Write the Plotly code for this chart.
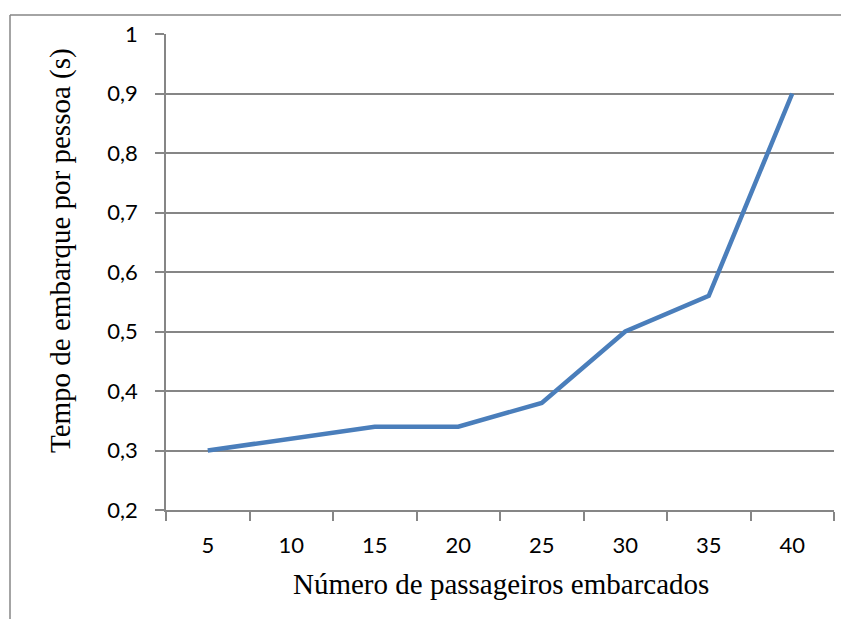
import plotly.graph_objects as go

categories = ["5", "10", "15", "20", "25", "30", "35", "40"]
values = [0.30, 0.32, 0.34, 0.34, 0.38, 0.50, 0.56, 0.90]
y_ticks = [0.2, 0.3, 0.4, 0.5, 0.6, 0.7, 0.8, 0.9, 1.0]
y_ticktext = ["0,2", "0,3", "0,4", "0,5", "0,6", "0,7", "0,8", "0,9", "1"]
x_title = "Número de passageiros embarcados"
y_title = "Tempo de embarque por pessoa (s)"

grid = "#868686"
fig = go.Figure()
fig.add_trace(go.Scatter(
    x=categories, y=values, mode="lines",
    line=dict(color="#4A7EBB", width=4.5),
    hoverinfo="skip",
))

# page body has an 8px margin; lay out in window pixels and shift
OFF = 8
WIN_W, WIN_H = 849, 619
W, H = WIN_W - OFF, WIN_H - OFF
PL, PR, PT, PB = 166, 834, 34, 510   # plot area in window pixels
L, R, T, B = PL - OFF, WIN_W - PR, PT - OFF, WIN_H - PB
pw, ph = PR - PL, PB - PT

def px_x(px):
    return (px - PL) / pw

def px_y(py):
    return (PB - py) / ph

fig.update_layout(
    width=W, height=H,
    margin=dict(l=L, r=R, t=T, b=B, autoexpand=False),
    paper_bgcolor="white", plot_bgcolor="white",
    showlegend=False,
    xaxis=dict(
        type="category", tickson="boundaries", ticks="outside", ticklen=9,
        tickcolor=grid, tickwidth=1.5,
        showline=True, linecolor=grid, linewidth=1.5,
        showgrid=False, zeroline=False,
        tickfont=dict(family="Lato", size=22, color="black"),
        ticklabelstandoff=15,
        range=[-0.5, 7.5],
    ),
    yaxis=dict(
        range=[0.2, 1.0], tickvals=y_ticks, ticktext=y_ticktext,
        ticks="outside", ticklen=9, tickcolor=grid, tickwidth=1.5,
        showline=True, linecolor=grid, linewidth=1.5,
        showgrid=True, gridcolor=grid, gridwidth=1.5, zeroline=False,
        tickfont=dict(family="Lato", size=22, color="black"),
        ticklabelstandoff=13,
    ),
    annotations=[
        dict(text=x_title, xref="paper", yref="paper",
             x=px_x(501), y=px_y(584), showarrow=False,
             xanchor="center", yanchor="middle",
             font=dict(family="Liberation Serif", size=29, color="black")),
        dict(text=y_title, xref="paper", yref="paper",
             x=px_x(60), y=px_y(251), showarrow=False, textangle=-90,
             xanchor="center", yanchor="middle",
             font=dict(family="Liberation Serif", size=29, color="black")),
    ],
    shapes=[
        dict(type="line", xref="paper", yref="paper",
             x0=px_x(10), x1=px_x(WIN_W + 5), y0=px_y(15), y1=px_y(15),
             line=dict(color=grid, width=1.5)),
        dict(type="line", xref="paper", yref="paper",
             x0=px_x(10), x1=px_x(10), y0=px_y(15), y1=px_y(WIN_H + 5),
             line=dict(color=grid, width=1.5)),
    ],
)

fig.write_html("out.html")
